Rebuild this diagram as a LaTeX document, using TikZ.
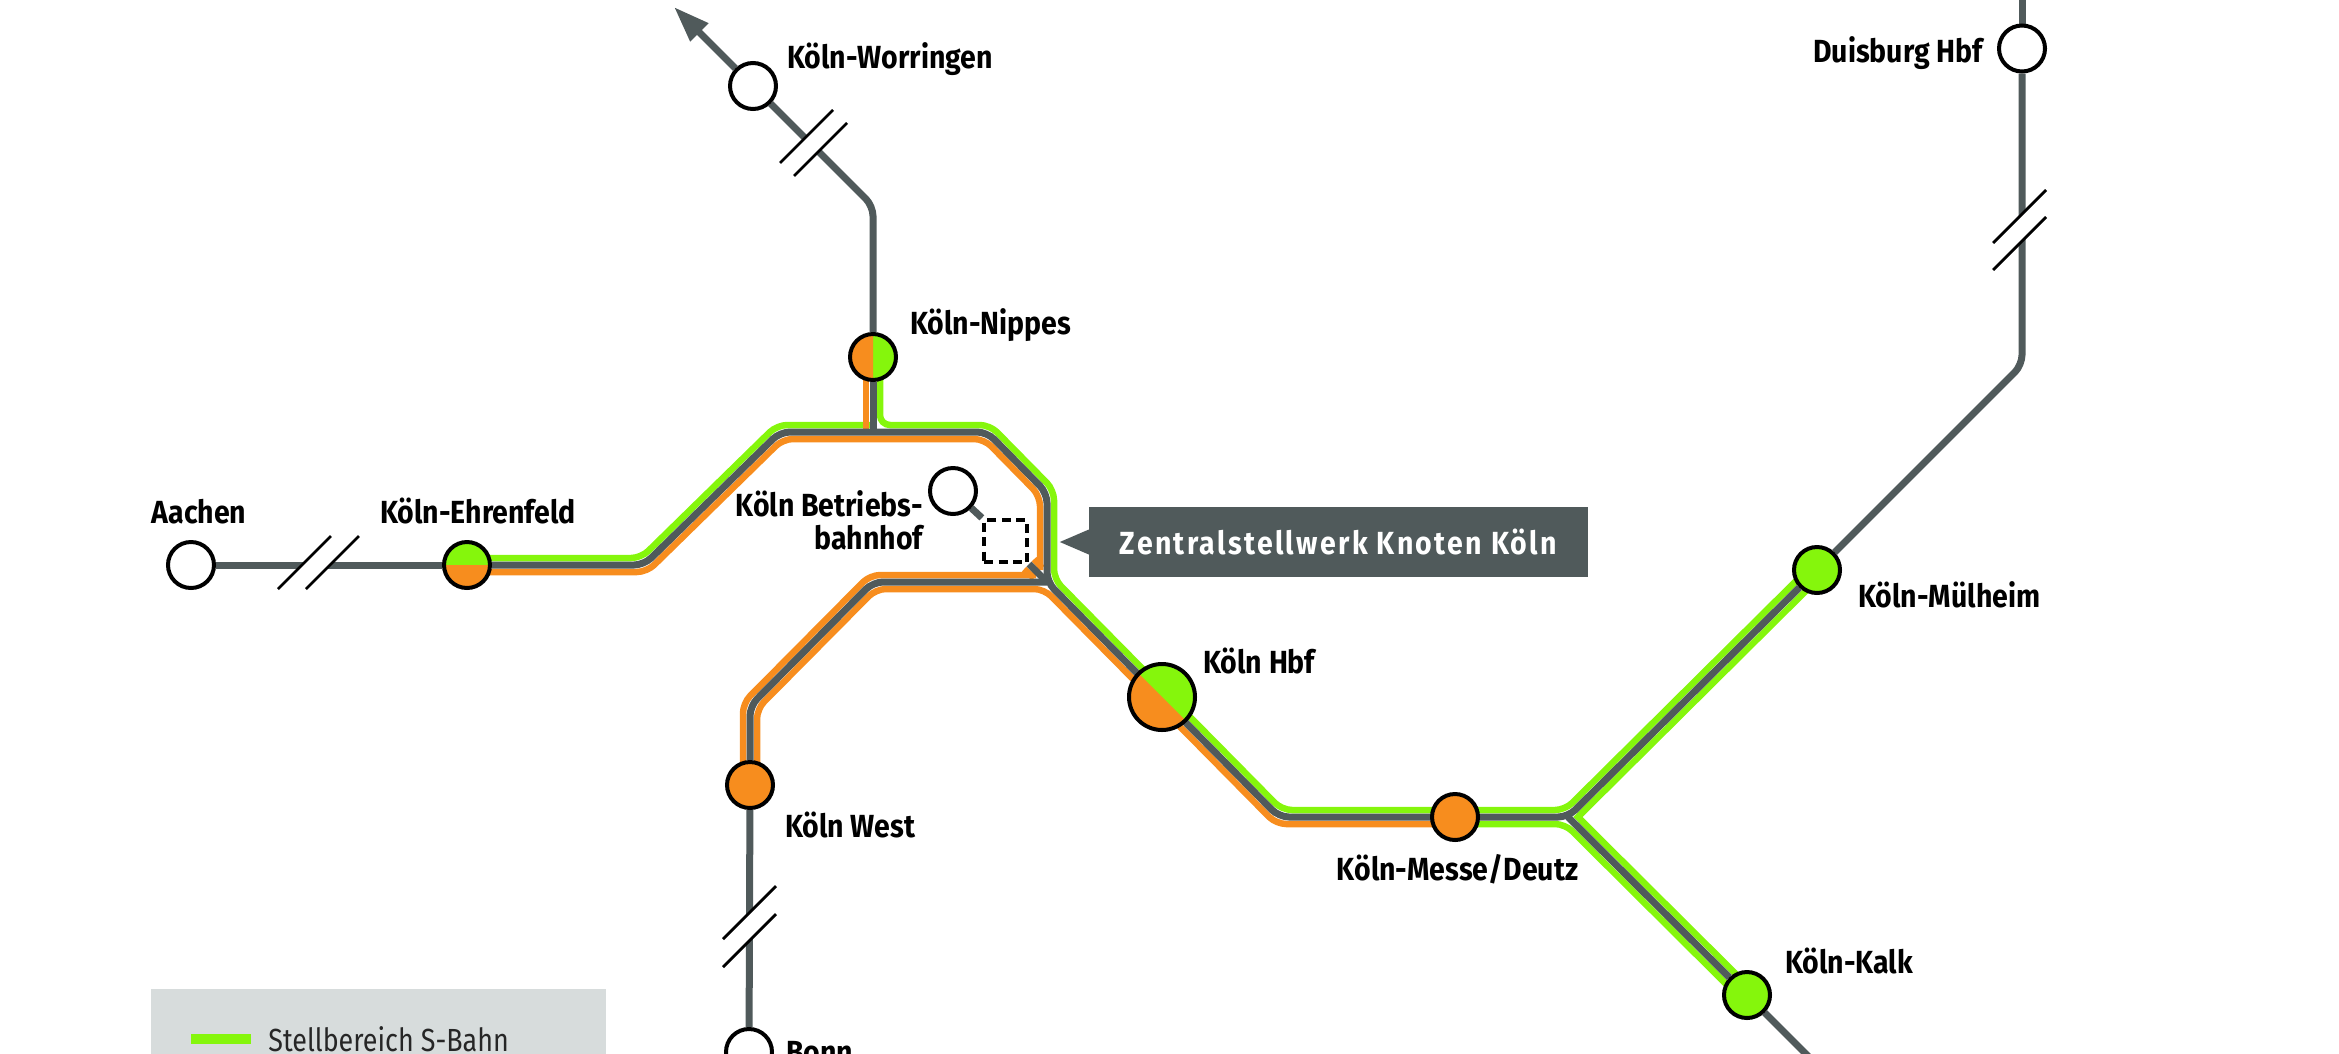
\documentclass[tikz,border=0pt]{standalone}
\usepackage{fontspec}
\usepackage{tikz}
\usetikzlibrary{arrows.meta, positioning, backgrounds}

\newfontfamily\stationfont{Fira Sans}[FakeStretch=0.89]
\newfontfamily\calloutfont{Fira Sans}[FakeStretch=0.89,LetterSpace=7.2]
\newfontfamily\legendfont{Fira Sans}[FakeStretch=0.84]

\definecolor{trackgray}{HTML}{505A5B}
\definecolor{sbahngreen}{HTML}{85F60C}
\definecolor{fernorange}{HTML}{F78D1E}
\definecolor{legendbg}{HTML}{D7DCDC}

\def\dd{7pt}
\def\da{2.9pt}
\def\ds{4.95pt}

\begin{document}
\begin{tikzpicture}[
		x=1pt, y=-1pt,
		station/.style={
			circle,
			draw=black,
			line width=4pt,
			fill=white,
			minimum size=46pt,
			inner sep=0pt
		},
		split/.style n args={3}{
			station,
			fill=#3,
			path picture={
				\fill[#2] (path picture bounding box.center) +(#1:60pt) -- +(#1-90:84pt) -- +(#1-180:60pt) -- cycle;
			}
		},
		stationname/.style={
			font=\stationfont\bfseries\fontsize{32}{33}\selectfont,
			text=black,
			inner sep=0pt,
			text height=22pt,
			text depth=0pt
		},
		track/.style={
			line width=7pt,
			draw=trackgray,
			rounded corners=10pt
		},
		sbahn/.style={
			line width=6.5pt,
			draw=sbahngreen,
			rounded corners=10pt
		},
		fern/.style={
			line width=6.5pt,
			draw=fernorange,
			rounded corners=10pt
		},
		breakline/.style={
			line width=2.8pt,
			draw=black
		}
	]
	\useasboundingbox (0,0) rectangle (2339,1053);

	% stations
	\node[station] (aachen) at (191,565) {};
	\node[split={0}{fernorange}{sbahngreen}] (ehrenfeld) at (467,565) {};
	\node[split={-90}{fernorange}{sbahngreen}] (nippes) at (873,357) {};
	\node[station] (worringen) at (753,86) {};
	\node[station] (betriebsbf) at (953,491) {};
	\node[station, fill=fernorange] (west) at (750,785) {};
	\node[station] (bonn) at (749,1052) {};
	\node[split={-45}{fernorange}{sbahngreen}, minimum size=66pt] (hbf) at (1162,697) {};
	\node[station, fill=fernorange] (messe) at (1455,817) {};
	\node[station, fill=sbahngreen] (kalk) at (1747,995) {};
	\node[station, fill=sbahngreen] (muelheim) at (1817,570) {};
	\node[station] (duisburg) at (2022,48.5) {};
	\node[draw=black, line width=4.2pt, dash pattern=on 9pt off 5.5pt, minimum width=43pt, minimum height=42pt, inner sep=0pt] (stellwerk) at (1005.5,541) {};

	% station names
	\node[stationname, above=16pt of aachen, xshift=8pt] (aachenname) {Aachen};
	\node[stationname, above=16pt of ehrenfeld, xshift=11pt] (ehrenfeldname) {Köln-Ehrenfeld};
	\node[stationname, right=12pt of nippes, yshift=33.5pt] (nippesname) {Köln-Nippes};
	\node[stationname, right=9pt of worringen, yshift=29pt] (worringenname) {Köln-Worringen};
	\node[stationname, left=14pt of duisburg, yshift=-2.5pt] (duisburgname) {Duisburg Hbf};
	\node[stationname, right=16pt of muelheim, yshift=-26pt] (muelheimname) {Köln-Mülheim};
	\node[stationname, right=13pt of kalk, yshift=33pt] (kalkname) {Köln-Kalk};
	\node[stationname, below=16pt of messe, xshift=2.5pt] (messename) {Köln-Messe/Deutz};
	\node[stationname, right=6pt of hbf, yshift=35pt] (hbfname) {Köln Hbf};
	\node[stationname, right=10pt of west, yshift=-41pt] (westname) {Köln West};
	\node[stationname, right=12pt of bonn] (bonnname) {Bonn};
	\node[font=\stationfont\bfseries\fontsize{32}{33}\selectfont, text=black, inner sep=0pt, align=right, left=5pt of betriebsbf, yshift=-29pt] (betriebsname) {Köln Betriebs-\\bahnhof};

	% callout
	\node[fill=trackgray, text=white, minimum width=499pt, minimum height=70pt, font=\calloutfont\bfseries\fontsize{32}{33}\selectfont] (callout) at (1338.5,542) {Zentralstellwerk Knoten Köln};
	\fill[trackgray] ([yshift=12.5pt]callout.west) -- ++(-29pt,-12.5pt) -- ([yshift=-12.5pt]callout.west) -- cycle;

	% legend
	\node[fill=legendbg, minimum width=455pt, minimum height=120pt, inner sep=0pt, anchor=north west] (legend) at (151,989) {};
	\node[fill=sbahngreen, minimum width=60pt, minimum height=10pt, inner sep=0pt] (sbahnswatch) at (221,1039) {};
	\node[right=17pt of sbahnswatch, inner sep=0pt, font=\legendfont\fontsize{32}{33}\selectfont, text=black!85] (sbahnlabel) {Stellbereich S-Bahn};

	% track bends
	\coordinate (bendA) at (644,565);
	\coordinate (bendB) at (780,432);
	\coordinate (nipjoin) at (873,432);
	\coordinate (bendC) at (987,432);
	\coordinate (bendD) at (1047,493);
	\coordinate (junction) at (1047,582);
	\coordinate (bendE) at (1279,817);
	\coordinate (fork) at (1568,817);
	\coordinate (bendF) at (750,706);
	\coordinate (bendG) at (873,582);
	\coordinate (bendH) at (873,206);
	\coordinate (bendI) at (2022,365);
	\coordinate (tip) at (674,7);
	\coordinate (topend) at (2022,-6);
	\coordinate (kalkend) at (1815,1063);

	\begin{scope}[on background layer]
		% green, on the upper side
		\draw[sbahn] ([yshift=\dd]ehrenfeld.center) -- ([xshift=-\da,yshift=\dd]bendA) -- ([xshift=-\da,yshift=\dd]bendB) -- ([yshift=\dd]nipjoin);
		\draw[sbahn] ([xshift=\dd]nippes.center) -- ([xshift=\dd,yshift=\dd]nipjoin) -- ([xshift=\da,yshift=\dd]bendC) -- ([xshift=\dd,yshift=\da]bendD) -- ([xshift=\dd,yshift=\da]junction) -- ([xshift=\da,yshift=\dd]bendE) -- ([xshift=-\da,yshift=\dd]fork) -- ([xshift=-\ds,yshift=\ds]muelheim.center);
		\draw[sbahn, sharp corners] ([xshift=\ds,yshift=-\ds]muelheim.center) -- ([xshift=9.9pt]fork) -- ([xshift=\ds,yshift=\ds]kalk.center);
		\draw[sbahn] ([yshift=-\dd]messe.center) -- ([xshift=-\da,yshift=-\dd]fork) -- ([xshift=-\ds,yshift=-\ds]kalk.center);

		% orange, on the lower side
		\draw[fern] ([yshift=-\dd]ehrenfeld.center) -- ([xshift=\da,yshift=-\dd]bendA) -- ([xshift=\da,yshift=-\dd]bendB) -- ([xshift=-\da,yshift=-\dd]bendC) -- ([xshift=-\dd,yshift=-\da]bendD) -- ([xshift=-\dd,yshift=12pt]junction);
		\draw[fern] ([xshift=-\dd]nippes.center) -- ([xshift=-\dd,yshift=-2pt]nipjoin);
		\draw[fern] ([xshift=-\dd]west.center) -- ([xshift=-\dd,yshift=\da]bendF) -- ([xshift=-\da,yshift=\dd]bendG) -- ([xshift=-11pt,yshift=\dd]junction);
		\draw[fern] ([xshift=\dd]west.center) -- ([xshift=\dd,yshift=-\da]bendF) -- ([xshift=\da,yshift=-\dd]bendG) -- ([xshift=-\da,yshift=-\dd]junction) -- ([xshift=-\da,yshift=-\dd]bendE) -- ([yshift=-\dd]messe.center);
		\draw[fern] ([xshift=\ds,yshift=\ds]stellwerk.south east) -- ([xshift=-5pt,yshift=14pt]junction);
		\draw[fern] ([xshift=-\ds,yshift=-\ds]stellwerk.south east) -- ([xshift=-13pt,yshift=4pt]junction);

		% gray lines
		\draw[track] (aachen) -- (ehrenfeld);
		\draw[track] (ehrenfeld) -- (bendA) -- (bendB) -- (bendC) -- (bendD) -- (junction) -- (bendE) -- (fork) -- (muelheim);
		\draw[track] (fork) -- (kalk);
		\draw[track] (kalk) -- (kalkend);
		\draw[track] (nippes) -- (nipjoin);
		\draw[track] (nippes) -- (bendH) -- (worringen);
		\draw[track, -{Triangle[length=36pt,width=24pt]}] (worringen) -- (tip);
		\draw[track] (west) -- (bendF) -- (bendG) -- (junction);
		\draw[track] (west) -- (bonn);
		\draw[track] (topend) -- (duisburg);
		\draw[track] (duisburg) -- (bendI) -- (muelheim);
		\draw[track] (betriebsbf) -- (stellwerk.north west);
		\draw[track] (stellwerk.south east) -- (junction);

		% breaks in the lines
		\foreach \x/\y/\u/\v in {278/589/28/0, 723/939/0/28, 780/163/14/13, 1993/243/0/27} {
			\fill[white] (\x,\y) -- ++(53,-53) -- ++(\u,\v) -- ++(-53,53) -- cycle;
			\draw[breakline] (\x,\y) -- ++(53,-53);
			\draw[breakline] (\x+\u,\y+\v) -- ++(53,-53);
		}
	\end{scope}

\end{tikzpicture}
\end{document}
